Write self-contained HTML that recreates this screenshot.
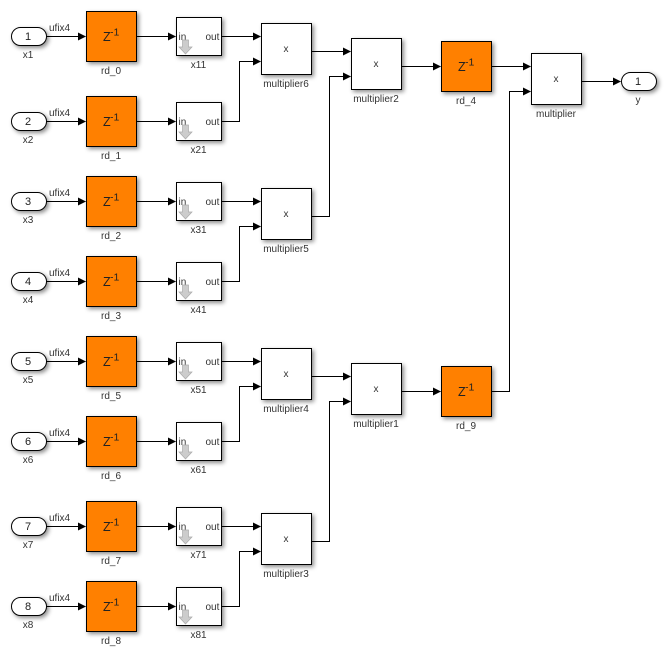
<!DOCTYPE html>
<html><head><meta charset="utf-8">
<style>
html,body{margin:0;padding:0;background:#fff}
svg{display:block}
text{font-family:"Liberation Sans",sans-serif;font-size:10px;fill:#333}
.b{fill:#fff;stroke:#000;stroke-width:1}
.o{fill:#ff8000;stroke:#000;stroke-width:1}
.s{filter:drop-shadow(2px 2px 2px rgba(0,0,0,.45))}
.w{fill:none;stroke:#000;stroke-width:1}
.m{text-anchor:middle}
.n{font-size:11px;fill:#222;text-anchor:middle}
.z{font-size:12.5px;fill:#222}
.e{font-size:10.5px;fill:#222}
.d{fill:#ccc;stroke:#aaa;stroke-width:.7}
</style></head><body>
<svg width="667" height="659" viewBox="0 0 667 659" xmlns="http://www.w3.org/2000/svg">
<defs>
<marker id="a" markerUnits="userSpaceOnUse" markerWidth="10" markerHeight="10" refX="7.5" refY="5" orient="auto"><path d="M0 1L8 5L0 9Z" fill="#000"/></marker>
</defs>

<g transform="translate(0,0)">
<rect class="b s" x="11.5" y="27.5" width="35" height="18" rx="9"/><text class="n" x="28" y="40">1</text><text class="m" x="28" y="58">x1</text><text x="49" y="31" font-size="9">ufix4</text>
<path class="w" d="M46.5 36.5H85.5" marker-end="url(#a)"/>
<rect class="o s" x="86.5" y="11.5" width="50" height="50"/><text class="z" x="103" y="41">Z</text><text class="e" x="110" y="35.500">-1</text><text class="m" x="111" y="74">rd_0</text>
<path class="w" d="M136.5 36.5H175.5" marker-end="url(#a)"/>
<rect class="b s" x="176.5" y="17.5" width="45" height="38"/><text x="178.5" y="40">in</text><text x="205.500" y="40">out</text>
<path class="d" d="M182.500 40H188.500V47H192L185.500 54L179 47H182.500Z"/><text class="m" x="198.500" y="68">x11</text>
</g>

<g transform="translate(0,85)">
<rect class="b s" x="11.5" y="27.5" width="35" height="18" rx="9"/><text class="n" x="28" y="40">2</text><text class="m" x="28" y="58">x2</text><text x="49" y="31" font-size="9">ufix4</text>
<path class="w" d="M46.5 36.5H85.5" marker-end="url(#a)"/>
<rect class="o s" x="86.5" y="11.5" width="50" height="50"/><text class="z" x="103" y="41">Z</text><text class="e" x="110" y="35.500">-1</text><text class="m" x="111" y="74">rd_1</text>
<path class="w" d="M136.5 36.5H175.5" marker-end="url(#a)"/>
<rect class="b s" x="176.5" y="17.5" width="45" height="38"/><text x="178.5" y="40">in</text><text x="205.500" y="40">out</text>
<path class="d" d="M182.500 40H188.500V47H192L185.500 54L179 47H182.500Z"/><text class="m" x="198.500" y="68">x21</text>
</g>

<g transform="translate(0,165)">
<rect class="b s" x="11.5" y="27.5" width="35" height="18" rx="9"/><text class="n" x="28" y="40">3</text><text class="m" x="28" y="58">x3</text><text x="49" y="31" font-size="9">ufix4</text>
<path class="w" d="M46.5 36.5H85.5" marker-end="url(#a)"/>
<rect class="o s" x="86.5" y="11.5" width="50" height="50"/><text class="z" x="103" y="41">Z</text><text class="e" x="110" y="35.500">-1</text><text class="m" x="111" y="74">rd_2</text>
<path class="w" d="M136.5 36.5H175.5" marker-end="url(#a)"/>
<rect class="b s" x="176.5" y="17.5" width="45" height="38"/><text x="178.5" y="40">in</text><text x="205.500" y="40">out</text>
<path class="d" d="M182.500 40H188.500V47H192L185.500 54L179 47H182.500Z"/><text class="m" x="198.500" y="68">x31</text>
</g>

<g transform="translate(0,245)">
<rect class="b s" x="11.5" y="27.5" width="35" height="18" rx="9"/><text class="n" x="28" y="40">4</text><text class="m" x="28" y="58">x4</text><text x="49" y="31" font-size="9">ufix4</text>
<path class="w" d="M46.5 36.5H85.5" marker-end="url(#a)"/>
<rect class="o s" x="86.5" y="11.5" width="50" height="50"/><text class="z" x="103" y="41">Z</text><text class="e" x="110" y="35.500">-1</text><text class="m" x="111" y="74">rd_3</text>
<path class="w" d="M136.5 36.5H175.5" marker-end="url(#a)"/>
<rect class="b s" x="176.5" y="17.5" width="45" height="38"/><text x="178.5" y="40">in</text><text x="205.500" y="40">out</text>
<path class="d" d="M182.500 40H188.500V47H192L185.500 54L179 47H182.500Z"/><text class="m" x="198.500" y="68">x41</text>
</g>

<g transform="translate(0,325)">
<rect class="b s" x="11.5" y="27.5" width="35" height="18" rx="9"/><text class="n" x="28" y="40">5</text><text class="m" x="28" y="58">x5</text><text x="49" y="31" font-size="9">ufix4</text>
<path class="w" d="M46.5 36.5H85.5" marker-end="url(#a)"/>
<rect class="o s" x="86.5" y="11.5" width="50" height="50"/><text class="z" x="103" y="41">Z</text><text class="e" x="110" y="35.500">-1</text><text class="m" x="111" y="74">rd_5</text>
<path class="w" d="M136.5 36.5H175.5" marker-end="url(#a)"/>
<rect class="b s" x="176.5" y="17.5" width="45" height="38"/><text x="178.5" y="40">in</text><text x="205.500" y="40">out</text>
<path class="d" d="M182.500 40H188.500V47H192L185.500 54L179 47H182.500Z"/><text class="m" x="198.500" y="68">x51</text>
</g>

<g transform="translate(0,405)">
<rect class="b s" x="11.5" y="27.5" width="35" height="18" rx="9"/><text class="n" x="28" y="40">6</text><text class="m" x="28" y="58">x6</text><text x="49" y="31" font-size="9">ufix4</text>
<path class="w" d="M46.5 36.5H85.5" marker-end="url(#a)"/>
<rect class="o s" x="86.5" y="11.5" width="50" height="50"/><text class="z" x="103" y="41">Z</text><text class="e" x="110" y="35.500">-1</text><text class="m" x="111" y="74">rd_6</text>
<path class="w" d="M136.5 36.5H175.5" marker-end="url(#a)"/>
<rect class="b s" x="176.5" y="17.5" width="45" height="38"/><text x="178.5" y="40">in</text><text x="205.500" y="40">out</text>
<path class="d" d="M182.500 40H188.500V47H192L185.500 54L179 47H182.500Z"/><text class="m" x="198.500" y="68">x61</text>
</g>

<g transform="translate(0,490)">
<rect class="b s" x="11.5" y="27.5" width="35" height="18" rx="9"/><text class="n" x="28" y="40">7</text><text class="m" x="28" y="58">x7</text><text x="49" y="31" font-size="9">ufix4</text>
<path class="w" d="M46.5 36.5H85.5" marker-end="url(#a)"/>
<rect class="o s" x="86.5" y="11.5" width="50" height="50"/><text class="z" x="103" y="41">Z</text><text class="e" x="110" y="35.500">-1</text><text class="m" x="111" y="74">rd_7</text>
<path class="w" d="M136.5 36.5H175.5" marker-end="url(#a)"/>
<rect class="b s" x="176.5" y="17.5" width="45" height="38"/><text x="178.5" y="40">in</text><text x="205.500" y="40">out</text>
<path class="d" d="M182.500 40H188.500V47H192L185.500 54L179 47H182.500Z"/><text class="m" x="198.500" y="68">x71</text>
</g>

<g transform="translate(0,570)">
<rect class="b s" x="11.5" y="27.5" width="35" height="18" rx="9"/><text class="n" x="28" y="40">8</text><text class="m" x="28" y="58">x8</text><text x="49" y="31" font-size="9">ufix4</text>
<path class="w" d="M46.5 36.5H85.5" marker-end="url(#a)"/>
<rect class="o s" x="86.5" y="11.5" width="50" height="50"/><text class="z" x="103" y="41">Z</text><text class="e" x="110" y="35.500">-1</text><text class="m" x="111" y="74">rd_8</text>
<path class="w" d="M136.5 36.5H175.5" marker-end="url(#a)"/>
<rect class="b s" x="176.5" y="17.5" width="45" height="38"/><text x="178.5" y="40">in</text><text x="205.500" y="40">out</text>
<path class="d" d="M182.500 40H188.500V47H192L185.500 54L179 47H182.500Z"/><text class="m" x="198.500" y="68">x81</text>
</g>

<!-- connectors, second stage -->
<path class="w" d="M221.500 36.500H260.500" marker-end="url(#a)"/>
<path class="w" d="M221.500 121.500H239.500V61.500H260.500" marker-end="url(#a)"/>
<path class="w" d="M221.500 201.500H260.500" marker-end="url(#a)"/>
<path class="w" d="M221.500 281.500H239.500V226.500H260.500" marker-end="url(#a)"/>
<path class="w" d="M221.500 361.500H260.500" marker-end="url(#a)"/>
<path class="w" d="M221.500 441.500H239.500V386.500H260.500" marker-end="url(#a)"/>
<path class="w" d="M221.500 526.500H260.500" marker-end="url(#a)"/>
<path class="w" d="M221.500 606.500H239.500V551.500H260.500" marker-end="url(#a)"/>
<!-- third stage -->
<path class="w" d="M311.500 51.500H350.500" marker-end="url(#a)"/>
<path class="w" d="M311.500 216.500H329.500V76.500H350.500" marker-end="url(#a)"/>
<path class="w" d="M311.500 376.500H350.500" marker-end="url(#a)"/>
<path class="w" d="M311.500 541.500H329.500V401.500H350.500" marker-end="url(#a)"/>
<!-- fourth stage -->
<path class="w" d="M401.500 66.500H440.500" marker-end="url(#a)"/>
<path class="w" d="M401.500 391.500H440.500" marker-end="url(#a)"/>
<path class="w" d="M491.500 66.500H530.500" marker-end="url(#a)"/>
<path class="w" d="M491.500 391.500H509.500V91.500H530.500" marker-end="url(#a)"/>
<path class="w" d="M581.500 81.500H620.500" marker-end="url(#a)"/>

<!-- multipliers -->
<rect class="b s" x="261.500" y="23.500" width="50" height="51"/><text class="m" x="286" y="52">x</text><text class="m" x="286" y="87">multiplier6</text>
<rect class="b s" x="261.500" y="188.500" width="50" height="51"/><text class="m" x="286" y="217">x</text><text class="m" x="286" y="252">multiplier5</text>
<rect class="b s" x="261.500" y="348.500" width="50" height="51"/><text class="m" x="286" y="377">x</text><text class="m" x="286" y="412">multiplier4</text>
<rect class="b s" x="261.500" y="513.500" width="50" height="51"/><text class="m" x="286" y="542">x</text><text class="m" x="286" y="577">multiplier3</text>
<rect class="b s" x="351.500" y="38.500" width="50" height="51"/><text class="m" x="376" y="67">x</text><text class="m" x="376" y="102">multiplier2</text>
<rect class="b s" x="351.500" y="363.500" width="50" height="51"/><text class="m" x="376" y="392">x</text><text class="m" x="376" y="427">multiplier1</text>
<rect class="o s" x="441.500" y="41.500" width="50" height="50"/><text class="z" x="458" y="71">Z</text><text class="e" x="465" y="65.500">-1</text><text class="m" x="466" y="104">rd_4</text>
<rect class="o s" x="441.500" y="366.500" width="50" height="50"/><text class="z" x="458" y="396">Z</text><text class="e" x="465" y="390.500">-1</text><text class="m" x="466" y="429">rd_9</text>
<rect class="b s" x="531.500" y="53.500" width="50" height="51"/><text class="m" x="556" y="82">x</text><text class="m" x="556" y="117">multiplier</text>
<rect class="b s" x="621.500" y="72.500" width="35" height="18" rx="9"/><text class="n" x="638" y="85">1</text><text class="m" x="638" y="103">y</text>
</svg>
</body></html>
